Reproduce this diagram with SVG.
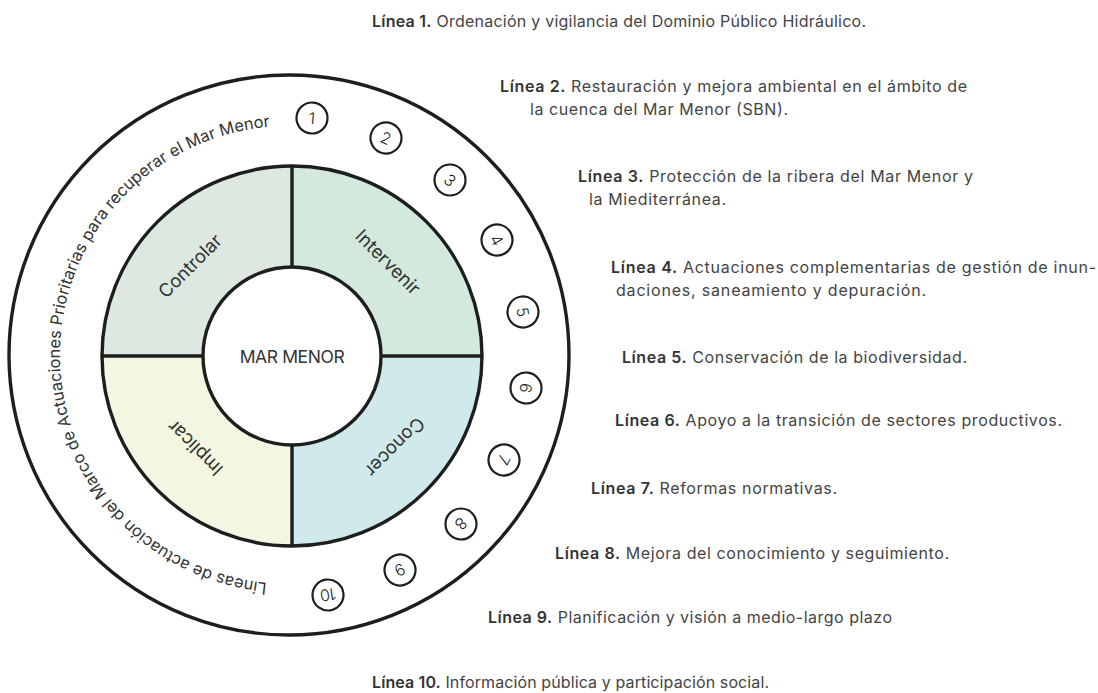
<svg xmlns="http://www.w3.org/2000/svg" xmlns:xlink="http://www.w3.org/1999/xlink" width="1098" height="693" viewBox="0 0 1098 693">
<defs>
<style>
.ln{stroke:#1e1e1e;stroke-width:3.4;fill:none}
.num circle{fill:#fff;stroke:#1e1e1e;stroke-width:2.2}
.num text{font-family:Inter,"Liberation Sans",sans-serif;font-size:16px;font-weight:300;fill:#222;text-anchor:middle}
.q{font-family:Inter,"Liberation Sans",sans-serif;font-size:18.5px;fill:#333;text-anchor:middle}
.t{font-family:Inter,"Liberation Sans",sans-serif;font-size:16px;fill:#444}
.t .b{font-weight:600;fill:#333}
.ring{font-family:Inter,"Liberation Sans",sans-serif;font-size:16.4px;fill:#333}
</style>
<path id="ringPath" d="M289 584 A229 229 0 1 1 289 126 A229 229 0 1 1 289 584"/>
</defs>
<rect width="1098" height="693" fill="#fff"/>
<g id="outer-ring">
<circle class="ln" cx="289" cy="355" r="280"/>
<text class="ring"><textPath xlink:href="#ringPath" startOffset="22">Líneas de actuación del Marco de Actuaciones Prioritarias para recuperar el Mar Menor</textPath></text>
</g>
<g id="q-controlar">
<path d="M292 166 L292 267 A89 89 0 0 0 203 356 L102 356 A190 190 0 0 1 292 166 Z" fill="#dce8e0"/>
<text class="q" transform="translate(190 266) rotate(-45)" y="6.5">Controlar</text>
</g>
<g id="q-intervenir">
<path d="M292 166 A190 190 0 0 1 482 356 L381 356 A89 89 0 0 0 292 267 Z" fill="#d2e9dc"/>
<text class="q" transform="translate(388 262) rotate(45)" y="6.5">Intervenir</text>
</g>
<g id="q-conocer">
<path d="M482 356 A190 190 0 0 1 292 546 L292 445 A89 89 0 0 0 381 356 Z" fill="#d0e9ea"/>
<text class="q" transform="translate(395 447) rotate(135)" y="6.5">Conocer</text>
</g>
<g id="q-implicar">
<path d="M292 546 A190 190 0 0 1 102 356 L203 356 A89 89 0 0 0 292 445 Z" fill="#f3f6e1"/>
<text class="q" transform="translate(195 448) rotate(225)" y="6.5">Implicar</text>
</g>
<g id="connectors">
<circle class="ln" cx="292" cy="356" r="190"/>
<line class="ln" x1="292" y1="166" x2="292" y2="267"/>
<line class="ln" x1="292" y1="445" x2="292" y2="546"/>
<line class="ln" x1="102" y1="356" x2="203" y2="356"/>
<line class="ln" x1="381" y1="356" x2="482" y2="356"/>
</g>
<g id="center">
<circle cx="292" cy="356" r="89" fill="#fff" stroke="#1e1e1e" stroke-width="3.4"/>
<text x="292" y="363" font-family="Inter, 'Liberation Sans', sans-serif" font-size="17.5" fill="#333" text-anchor="middle" letter-spacing="-0.4">MAR MENOR</text>
</g>
<g class="num">
<g id="n1" transform="translate(312 118) rotate(5)"><circle r="15.5"/><text y="6">1</text></g>
<g id="n2" transform="translate(386 138) rotate(23.5)"><circle r="15.5"/><text y="6">2</text></g>
<g id="n3" transform="translate(450 180) rotate(42)"><circle r="15.5"/><text y="6">3</text></g>
<g id="n4" transform="translate(497 240) rotate(60.5)"><circle r="15.5"/><text y="6">4</text></g>
<g id="n5" transform="translate(523 312) rotate(79)"><circle r="15.5"/><text y="6">5</text></g>
<g id="n6" transform="translate(526 388) rotate(97.5)"><circle r="15.5"/><text y="6">6</text></g>
<g id="n7" transform="translate(504 460) rotate(116)"><circle r="15.5"/><text y="6">7</text></g>
<g id="n8" transform="translate(461 524) rotate(134.5)"><circle r="15.5"/><text y="6">8</text></g>
<g id="n9" transform="translate(400 570) rotate(153)"><circle r="15.5"/><text y="6">9</text></g>
<g id="n10" transform="translate(328 595) rotate(171.5)"><circle r="15.5"/><text y="6">10</text></g>
</g>
<g id="labels">
<text id="l1" class="t" x="372" y="27" textLength="494" lengthAdjust="spacing"><tspan class="b">Línea 1.</tspan> Ordenación y vigilancia del Dominio Público Hidráulico.</text>
<text id="l2" class="t" x="500" y="92" textLength="467" lengthAdjust="spacing"><tspan class="b">Línea 2.</tspan> Restauración y mejora ambiental en el ámbito de</text>
<text class="t" x="530" y="115" textLength="258" lengthAdjust="spacing">la cuenca del  Mar Menor (SBN).</text>
<text id="l3" class="t" x="578" y="182" textLength="395" lengthAdjust="spacing"><tspan class="b">Línea 3.</tspan> Protección de la ribera del Mar Menor y</text>
<text class="t" x="589" y="205" textLength="137" lengthAdjust="spacing">la Miediterránea.</text>
<text id="l4" class="t" x="611" y="273" textLength="485" lengthAdjust="spacing"><tspan class="b">Línea 4.</tspan> Actuaciones complementarias de gestión de inun-</text>
<text class="t" x="616" y="296" textLength="310" lengthAdjust="spacing">daciones, saneamiento y depuración.</text>
<text id="l5" class="t" x="622" y="363" textLength="345" lengthAdjust="spacing"><tspan class="b">Línea 5.</tspan> Conservación de la biodiversidad.</text>
<text id="l6" class="t" x="615" y="426" textLength="447" lengthAdjust="spacing"><tspan class="b">Línea 6.</tspan> Apoyo a la transición de sectores productivos.</text>
<text id="l7" class="t" x="591" y="494" textLength="246" lengthAdjust="spacing"><tspan class="b">Línea 7.</tspan> Reformas normativas.</text>
<text id="l8" class="t" x="555" y="559" textLength="394" lengthAdjust="spacing"><tspan class="b">Línea 8.</tspan> Mejora del conocimiento y seguimiento.</text>
<text id="l9" class="t" x="488" y="623" textLength="404" lengthAdjust="spacing"><tspan class="b">Línea 9.</tspan> Planificación y visión a medio-largo plazo</text>
<text id="l10" class="t" x="372" y="688" textLength="397" lengthAdjust="spacing"><tspan class="b">Línea 10.</tspan> Información pública y participación social.</text>
</g>
</svg>
